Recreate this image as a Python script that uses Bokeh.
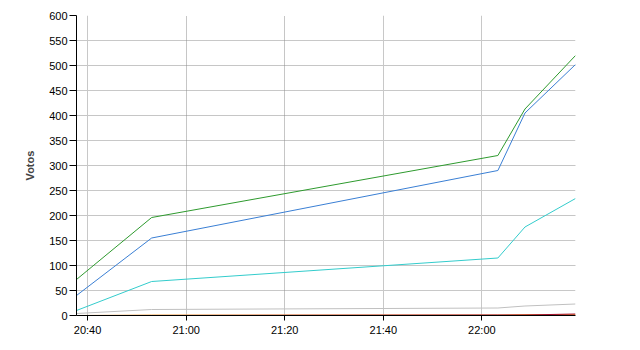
import pandas as pd
from bokeh.plotting import figure
from bokeh.models import Range1d, Grid, FixedTicker, DatetimeTickFormatter
from bokeh.embed import file_html
from bokeh.resources import INLINE

DAY = "2011-05-22 "
times = ["20:37:45", "20:53:00", "22:03:15", "22:08:45", "22:19:00"]
green = [72, 196, 320, 413, 520]
blue = [40, 155, 290, 405, 502]
cyan = [10, 68, 115, 177, 234]
gray = [4, 12, 15, 19, 23]
orange = [0, 1, 1, 2, 2]
red = [0, 0, 1, 1, 3]

x_ticks = ["20:40", "21:00", "21:20", "21:40", "22:00"]
x_solid_grid = ["20:40", "21:40", "22:00", "22:19"]
x_dotted_grid = ["21:00", "21:20"]
y_ticks = list(range(0, 601, 50))
y_dotted = list(range(0, 601, 100))
y_solid = list(range(50, 600, 100))


def ms(t):
    return pd.Timestamp(DAY + t).value // 10**6


xs = [ms(t) for t in times]

p = figure(width=640, height=350, output_backend="svg", toolbar_location=None,
           x_axis_type="datetime",
           x_range=Range1d(xs[0], xs[-1]), y_range=Range1d(0, 600),
           min_border_left=76, min_border_right=65, min_border_top=15,
           min_border_bottom=35)
p.outline_line_color = None
p.background_fill_color = "white"
p.border_fill_color = "white"
p.xgrid.visible = False
p.ygrid.visible = False

p.add_layout(Grid(dimension=1, ticker=FixedTicker(ticks=y_solid),
                  grid_line_color="#c8c8c8", grid_line_width=1))
p.add_layout(Grid(dimension=1, ticker=FixedTicker(ticks=y_dotted),
                  grid_line_color="#8c8c8c", grid_line_dash="1 1", grid_line_width=1))
p.add_layout(Grid(dimension=0, ticker=FixedTicker(ticks=[ms(t) for t in x_solid_grid]),
                  grid_line_color="#c8c8c8", grid_line_width=1))
p.add_layout(Grid(dimension=0, ticker=FixedTicker(ticks=[ms(t) for t in x_dotted_grid]),
                  grid_line_color="#8c8c8c", grid_line_dash="1 1", grid_line_width=1))

p.line(xs, gray, line_color="#c0c0c0", line_width=1)
p.line(xs, orange, line_color="#f0a040", line_width=1)
p.line(xs, red, line_color="#a01030", line_width=1)
p.line(xs, cyan, line_color="#33cccc", line_width=1)
p.line(xs, blue, line_color="#3a7fd4", line_width=1)
p.line(xs, green, line_color="#2e9a2e", line_width=1)

FONT = "Liberation Sans"
for ax in (p.xaxis[0], p.yaxis[0]):
    ax.axis_line_color = "black"
    ax.major_tick_line_color = "black"
    ax.minor_tick_line_color = None
    ax.major_tick_in = 0
    ax.major_label_text_font = FONT
    ax.major_label_text_font_size = "11px"
    ax.major_label_text_color = "black"

p.xaxis.ticker = FixedTicker(ticks=[ms(t) for t in x_ticks])
p.xaxis.formatter = DatetimeTickFormatter(minutes="%H:%M", hourmin="%H:%M", hours="%H:%M")
p.xaxis.major_tick_out = 5
p.xaxis.major_label_standoff = 3

p.yaxis.ticker = FixedTicker(ticks=y_ticks)
p.yaxis.major_tick_out = 7
p.yaxis.major_label_standoff = 2
p.yaxis.axis_label = "Votos"
p.yaxis.axis_label_text_font = FONT
p.yaxis.axis_label_text_font_size = "11px"
p.yaxis.axis_label_text_font_style = "bold"
p.yaxis.axis_label_standoff = 10

open("out.html", "w").write(file_html(p, INLINE))
